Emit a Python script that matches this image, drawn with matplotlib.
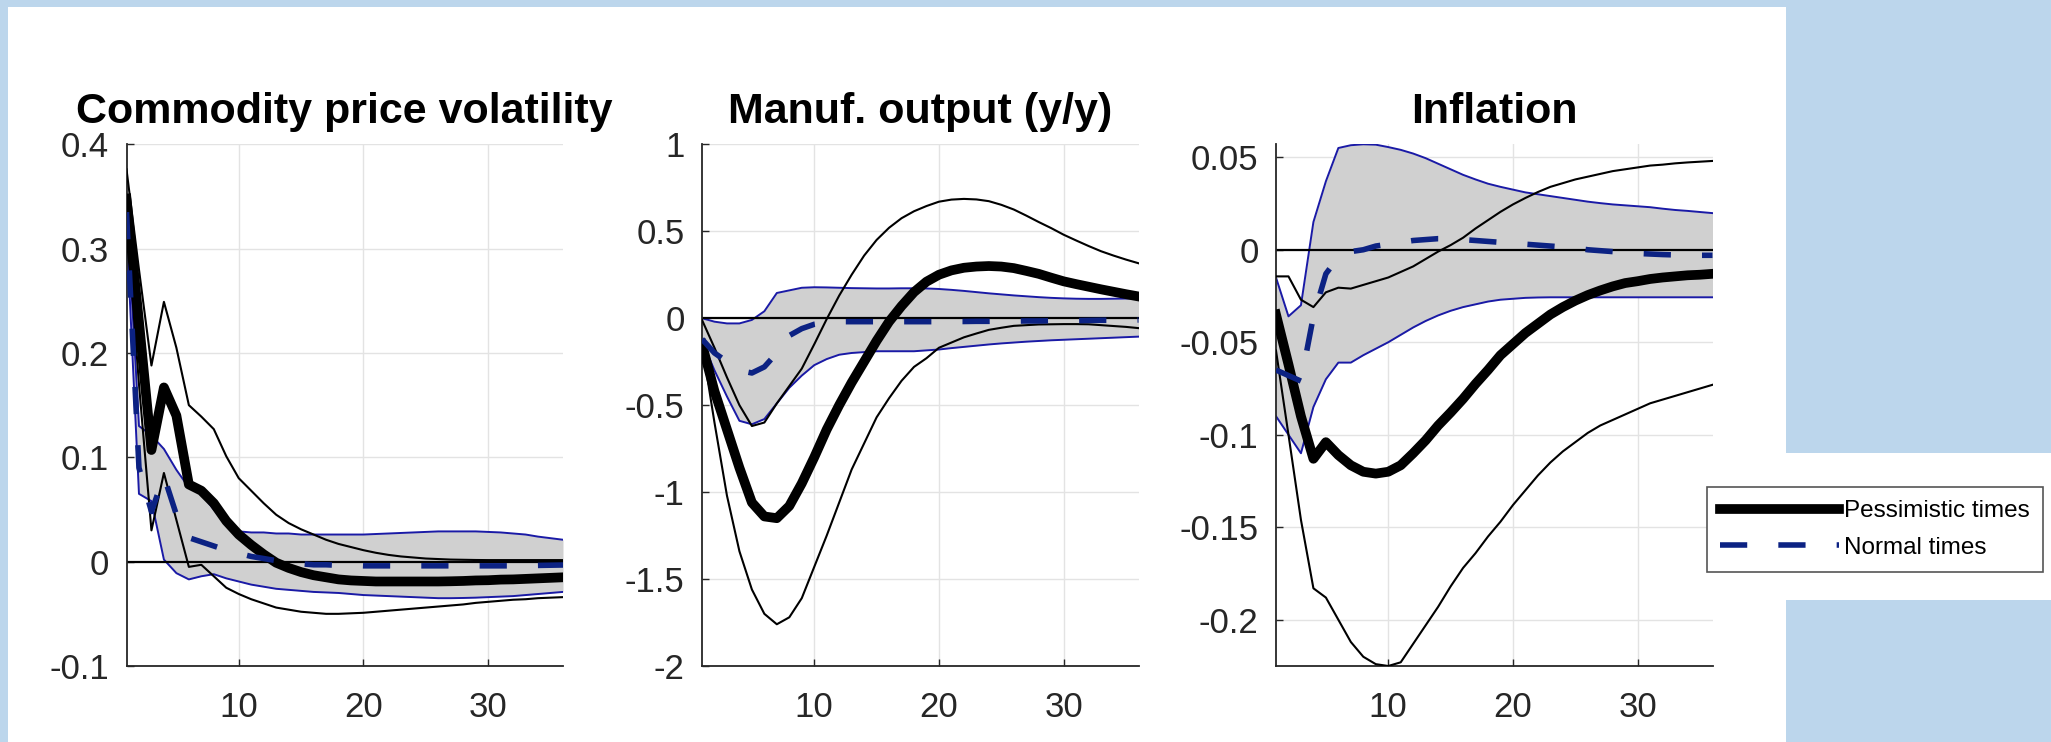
import numpy as np
import matplotlib
matplotlib.use("Agg")
import matplotlib.pyplot as plt
from matplotlib.patches import Rectangle

plt.rcParams['font.family'] = ['Liberation Sans', 'DejaVu Sans']

# horizon (months after the shock)
t = np.arange(1, 37)

# --- Commodity price volatility ---
cpv_pess_med = [0.348, 0.23, 0.107, 0.167, 0.14, 0.074, 0.068, 0.056, 0.039, 0.026, 0.016, 0.007,
                -0.001, -0.006, -0.010, -0.013, -0.015, -0.017, -0.018, -0.0185, -0.019, -0.019,
                -0.019, -0.019, -0.019, -0.019, -0.0188, -0.0185, -0.018, -0.0178, -0.0172, -0.017,
                -0.0165, -0.016, -0.0155, -0.015]
cpv_pess_hi = [0.376, 0.28, 0.188, 0.249, 0.205, 0.15, 0.139, 0.127, 0.101, 0.08, 0.068, 0.056,
               0.045, 0.037, 0.031, 0.026, 0.021, 0.017, 0.014, 0.011, 0.0085, 0.0065, 0.005, 0.004,
               0.003, 0.0025, 0.002, 0.0018, 0.0016, 0.0015, 0.0015, 0.0015, 0.0015, 0.0015, 0.0015,
               0.0015]
cpv_pess_lo = [0.33, 0.17, 0.03, 0.085, 0.04, -0.005, -0.003, -0.014, -0.025, -0.031, -0.036, -0.04,
               -0.044, -0.046, -0.048, -0.049, -0.05, -0.05, -0.0495, -0.049, -0.048, -0.047, -0.046,
               -0.045, -0.044, -0.043, -0.042, -0.041, -0.0395, -0.0385, -0.0375, -0.0365, -0.036,
               -0.035, -0.0345, -0.034]
cpv_norm_hi = [0.346, 0.13, 0.121, 0.108, 0.088, 0.071, 0.065, 0.05, 0.036, 0.029, 0.028, 0.028,
               0.027, 0.027, 0.026, 0.026, 0.026, 0.026, 0.026, 0.026, 0.0265, 0.027, 0.0275, 0.028,
               0.0285, 0.029, 0.029, 0.029, 0.029, 0.0285, 0.028, 0.027, 0.026, 0.024, 0.0225, 0.021]
cpv_norm_lo = [0.32, 0.065, 0.058, 0.002, -0.011, -0.017, -0.014, -0.012, -0.016, -0.019, -0.022,
               -0.024, -0.026, -0.027, -0.028, -0.029, -0.0295, -0.03, -0.031, -0.032, -0.0325,
               -0.033, -0.0335, -0.034, -0.0345, -0.035, -0.035, -0.0348, -0.0345, -0.034, -0.0335,
               -0.033, -0.032, -0.031, -0.030, -0.029]
cpv_norm_med = [0.335, 0.09, 0.048, 0.082, 0.045, 0.023, 0.019, 0.015, 0.011, 0.008, 0.005, 0.003,
                0.001, -0.001, -0.002, -0.003, -0.003, -0.0035, -0.0035, -0.004, -0.004, -0.004,
                -0.004, -0.004, -0.004, -0.004, -0.004, -0.004, -0.004, -0.004, -0.004, -0.004,
                -0.0038, -0.0036, -0.0034, -0.0032]

# --- Manufacturing output (y/y) ---
mo_pess_med = [-0.15, -0.42, -0.64, -0.86, -1.06, -1.14, -1.15, -1.08, -0.95, -0.80, -0.64, -0.5,
               -0.37, -0.25, -0.13, -0.02, 0.07, 0.15, 0.21, 0.25, 0.275, 0.29, 0.297, 0.3, 0.297,
               0.288, 0.272, 0.255, 0.233, 0.212, 0.196, 0.181, 0.166, 0.152, 0.138, 0.125]
mo_pess_hi = [-0.01, -0.17, -0.34, -0.5, -0.62, -0.6, -0.49, -0.39, -0.29, -0.15, -0.005, 0.13,
              0.25, 0.36, 0.45, 0.52, 0.575, 0.615, 0.645, 0.67, 0.682, 0.686, 0.683, 0.673, 0.652,
              0.625, 0.59, 0.553, 0.518, 0.48, 0.447, 0.415, 0.385, 0.36, 0.337, 0.316]
mo_pess_lo = [-0.15, -0.6, -1.02, -1.34, -1.56, -1.7, -1.76, -1.72, -1.61, -1.43, -1.25, -1.06,
              -0.87, -0.72, -0.57, -0.46, -0.36, -0.28, -0.23, -0.17, -0.14, -0.11, -0.088, -0.067,
              -0.055, -0.044, -0.04, -0.036, -0.035, -0.034, -0.034, -0.035, -0.04, -0.045, -0.05,
              -0.057]
mo_norm_hi = [0.0, -0.02, -0.03, -0.03, -0.01, 0.04, 0.145, 0.16, 0.175, 0.178, 0.177, 0.175, 0.173,
              0.172, 0.171, 0.171, 0.172, 0.172, 0.171, 0.168, 0.163, 0.157, 0.15, 0.143, 0.137,
              0.131, 0.126, 0.121, 0.117, 0.114, 0.112, 0.111, 0.111, 0.112, 0.113, 0.115]
mo_norm_lo = [-0.13, -0.3, -0.45, -0.59, -0.61, -0.58, -0.49, -0.4, -0.33, -0.27, -0.235, -0.21,
              -0.2, -0.195, -0.19, -0.19, -0.19, -0.19, -0.185, -0.18, -0.172, -0.165, -0.158,
              -0.151, -0.145, -0.14, -0.135, -0.131, -0.127, -0.124, -0.121, -0.118, -0.115, -0.112,
              -0.109, -0.106]
mo_norm_med = [-0.12, -0.2, -0.25, -0.3, -0.315, -0.28, -0.2, -0.1, -0.06, -0.035, -0.025, -0.02,
               -0.02, -0.02, -0.02, -0.02, -0.02, -0.02, -0.02, -0.02, -0.019, -0.019, -0.018,
               -0.018, -0.017, -0.017, -0.016, -0.016, -0.015, -0.015, -0.014, -0.013, -0.012,
               -0.012, -0.011, -0.01]

# --- Inflation ---
inf_pess_med = [-0.035, -0.062, -0.09, -0.113, -0.104, -0.111, -0.1165, -0.12, -0.121, -0.12,
                -0.1165, -0.11, -0.103, -0.095, -0.088, -0.0806, -0.0725, -0.065, -0.057, -0.051,
                -0.045, -0.04, -0.035, -0.031, -0.0275, -0.0245, -0.022, -0.0198, -0.018, -0.017,
                -0.0158, -0.015, -0.0144, -0.0138, -0.0135, -0.013]
inf_pess_hi = [-0.0144, -0.0144, -0.027, -0.031, -0.023, -0.0205, -0.021, -0.019, -0.017, -0.015,
               -0.012, -0.009, -0.005, -0.001, 0.0025, 0.0065, 0.0115, 0.016, 0.0205, 0.0245, 0.028,
               0.0312, 0.034, 0.036, 0.038, 0.0395, 0.041, 0.0425, 0.0435, 0.0445, 0.0455, 0.046,
               0.0467, 0.0472, 0.0476, 0.048]
inf_pess_lo = [-0.0545, -0.1, -0.146, -0.183, -0.188, -0.2, -0.212, -0.22, -0.224, -0.225, -0.223,
               -0.213, -0.203, -0.193, -0.182, -0.172, -0.164, -0.155, -0.147, -0.138, -0.13,
               -0.122, -0.115, -0.109, -0.104, -0.099, -0.095, -0.092, -0.089, -0.086, -0.083,
               -0.081, -0.079, -0.077, -0.075, -0.073]
inf_norm_hi = [-0.015, -0.036, -0.03, 0.015, 0.037, 0.055, 0.0565, 0.057, 0.0568, 0.0555, 0.054,
               0.052, 0.0495, 0.0465, 0.0435, 0.0405, 0.038, 0.0357, 0.034, 0.0325, 0.031, 0.03,
               0.029, 0.028, 0.027, 0.026, 0.0252, 0.0245, 0.024, 0.0235, 0.023, 0.0222, 0.0215,
               0.021, 0.0204, 0.0198]
inf_norm_lo = [-0.09, -0.1, -0.11, -0.085, -0.07, -0.061, -0.061, -0.057, -0.0535, -0.05, -0.046,
               -0.042, -0.0385, -0.0355, -0.033, -0.031, -0.0295, -0.028, -0.027, -0.0265, -0.026,
               -0.0258, -0.0257, -0.0257, -0.0257, -0.0257, -0.0257, -0.0257, -0.0257, -0.0257,
               -0.0257, -0.0257, -0.0257, -0.0257, -0.0257, -0.0257]
inf_norm_med = [-0.065, -0.068, -0.071, -0.036, -0.013, -0.004, -0.001, 0.0, 0.002, 0.003, 0.004,
                0.005, 0.0055, 0.006, 0.006, 0.0055, 0.005, 0.0045, 0.004, 0.0035, 0.003, 0.0025,
                0.002, 0.0015, 0.001, 0.0, -0.0005, -0.001, -0.0015, -0.002, -0.0023, -0.0026,
                -0.0028, -0.003, -0.003, -0.003]

titles = ['Commodity price volatility', 'Manuf. output (y/y)', 'Inflation']
xticks = [10, 20, 30]
yticks = [[-0.1, 0, 0.1, 0.2, 0.3, 0.4],
          [-2, -1.5, -1, -0.5, 0, 0.5, 1],
          [-0.2, -0.15, -0.1, -0.05, 0, 0.05]]
yticklabels = [['-0.1', '0', '0.1', '0.2', '0.3', '0.4'],
               ['-2', '-1.5', '-1', '-0.5', '0', '0.5', '1'],
               ['-0.2', '-0.15', '-0.1', '-0.05', '0', '0.05']]
ylims = [(-0.1, 0.4), (-2, 1), (-0.225, 0.057)]
legend_labels = ['Pessimistic times', 'Normal times']

panels = [
    (cpv_pess_med, cpv_pess_hi, cpv_pess_lo, cpv_norm_med, cpv_norm_hi, cpv_norm_lo),
    (mo_pess_med, mo_pess_hi, mo_pess_lo, mo_norm_med, mo_norm_hi, mo_norm_lo),
    (inf_pess_med, inf_pess_hi, inf_pess_lo, inf_norm_med, inf_norm_hi, inf_norm_lo),
]

W, H = 2051, 742
fig = plt.figure(figsize=(W / 100, H / 100), dpi=100)
fig.patch.set_facecolor('#bcd6ec')

# white slide area
fig.add_artist(Rectangle((8 / W, 0), (1786 - 8) / W, 1 - 7 / H, transform=fig.transFigure,
                         facecolor='white', edgecolor='none', zorder=0))
fig.add_artist(Rectangle((1786 / W, 1 - 600 / H), 1 - 1786 / W, (600 - 453) / H,
                         transform=fig.transFigure, facecolor='white', edgecolor='none', zorder=0))

band_edge = '#1a1aa6'
dash_col = '#0c2283'
axis_col = '#262626'
lefts = [126.5, 702, 1276]
bottom = 1 - 666 / H
height = (666 - 144.3) / H
width = 436.5 / W

for i, (pm, ph, pl, nm, nh, nl) in enumerate(panels):
    ax = fig.add_axes([lefts[i] / W, bottom, width, height])
    ax.set_facecolor('white')
    ax.fill_between(t, nl, nh, color='#d0d0d0', lw=0, zorder=1)
    ax.plot(t, nh, color=band_edge, lw=1.4, zorder=2)
    ax.plot(t, nl, color=band_edge, lw=1.4, zorder=2)
    ax.axhline(0, color='black', lw=1.6, zorder=2.5)
    ax.plot(t, ph, color='black', lw=1.5, zorder=3)
    ax.plot(t, pl, color='black', lw=1.5, zorder=3)
    l1, = ax.plot(t, pm, color='black', lw=7, zorder=4, solid_joinstyle='round',
                  label=legend_labels[0])
    l2, = ax.plot(t, nm, color=dash_col, lw=4, zorder=5, dashes=(4.9, 5.6),
                  label=legend_labels[1])

    ax.set_xlim(1, 36)
    ax.set_ylim(*ylims[i])
    ax.set_xticks(xticks)
    ax.set_xticklabels([str(v) for v in xticks])
    ax.set_yticks(yticks[i])
    ax.set_yticklabels(yticklabels[i])
    ax.grid(True, color='#e3e3e3', lw=1.0)
    ax.set_axisbelow(True)
    for s in ['top', 'right']:
        ax.spines[s].set_visible(False)
    for s in ['left', 'bottom']:
        ax.spines[s].set_color(axis_col)
        ax.spines[s].set_linewidth(1.3)
    ax.tick_params(axis='both', direction='in', length=5, width=1.0, colors=axis_col,
                   labelsize=25, labelcolor=axis_col)
    ax.tick_params(axis='x', pad=18)
    ax.tick_params(axis='y', pad=12.5)
    ax.set_title(titles[i], fontsize=31, fontweight='bold', color='black', pad=15.5)

leg = fig.legend([l1, l2], legend_labels, loc='upper left',
                 bbox_to_anchor=(1707 / W, 1 - 487 / H), borderaxespad=0,
                 fontsize=17.5, frameon=True, fancybox=False, edgecolor='#555555',
                 framealpha=1, handlelength=4.9, handletextpad=0.2, borderpad=0.55,
                 labelspacing=0.6)
leg.get_frame().set_linewidth(1.2)

fig.savefig('out.png', dpi=100, facecolor=fig.get_facecolor())
